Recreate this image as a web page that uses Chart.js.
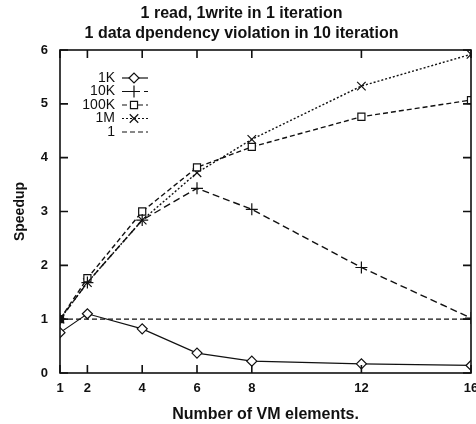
<!DOCTYPE html>
<html>
<head>
<meta charset="utf-8">
<script src="https://cdn.jsdelivr.net/npm/chart.js@4/dist/chart.umd.min.js"></script>
<style>
  body { margin: 0; background: #fff; }
  #wrap { width: 476px; height: 424px; }
</style>
</head>
<body>
<div id="wrap"><canvas id="chart" width="476" height="424"></canvas></div>
<script>
const vmElements = [1, 2, 4, 6, 8, 12, 16];
const xTicks = [1, 2, 4, 6, 8, 12, 16];

const speed1K   = [0.75, 1.10, 0.82, 0.37, 0.22, 0.17, 0.14];
const speed10K  = [1.0, 1.68, 2.84, 3.43, 3.04, 1.96, 1.02];
const speed100K = [1.0, 1.76, 3.0, 3.82, 4.2, 4.76, 5.07];
const speed1M   = [1.0, 1.68, 2.84, 3.72, 4.34, 5.33, 5.92];
const baseline  = [1, 1, 1, 1, 1, 1, 1];

const ink = '#111';
const font = 'Liberation Sans, Arial, Helvetica, sans-serif';

function pts(vals) {
    return vals.map((v, i) => ({ x: vmElements[i], y: v }));
}

// inward ticks, frame and the legend in the top-left corner
const framePlugin = {
    id: 'frame',
    afterDatasetsDraw(chart) {
        const ctx = chart.ctx;
        const a = chart.chartArea;
        const xs = chart.scales.x, ys = chart.scales.y;
        ctx.save();
        ctx.strokeStyle = ink;
        ctx.lineWidth = 1.6;
        ctx.setLineDash([]);
        ctx.strokeRect(a.left, a.top, a.right - a.left, a.bottom - a.top);
        const len = 8;
        xTicks.forEach(t => {
            const px = xs.getPixelForValue(t);
            ctx.beginPath();
            ctx.moveTo(px, a.bottom); ctx.lineTo(px, a.bottom - len);
            ctx.moveTo(px, a.top); ctx.lineTo(px, a.top + len);
            ctx.stroke();
        });
        for (let t = 0; t <= 6; t++) {
            const py = ys.getPixelForValue(t);
            ctx.beginPath();
            ctx.moveTo(a.left, py); ctx.lineTo(a.left + len, py);
            ctx.moveTo(a.right, py); ctx.lineTo(a.right - len, py);
            ctx.stroke();
        }

        // legend: label on the left, line sample on the right
        ctx.font = '14px ' + font;
        ctx.textAlign = 'right';
        ctx.textBaseline = 'middle';
        chart.data.datasets.forEach((ds, i) => {
            const y = 78 + i * 13.5;
            ctx.fillStyle = ink;
            ctx.fillText(ds.label, 115, y);
            ctx.beginPath();
            ctx.strokeStyle = ink;
            ctx.lineWidth = 1.2;
            ctx.setLineDash(ds.borderDash || []);
            ctx.moveTo(122, y); ctx.lineTo(148, y);
            ctx.stroke();
            ctx.setLineDash([]);
            if (ds.pointStyle && ds.pointRadius > 0) {
                ctx.fillStyle = '#fff';
                ctx.strokeStyle = ink;
                ctx.lineWidth = 1.2;
                Chart.helpers.drawPoint(ctx, {
                    pointStyle: ds.pointStyle,
                    radius: ds.pointRadius,
                    borderWidth: 1.2
                }, 134, y);
            }
        });
        ctx.restore();
    }
};

function series(label, vals, dash, style, radius, width) {
    return {
        label: label,
        data: pts(vals),
        borderColor: ink,
        borderWidth: width,
        borderDash: dash,
        pointStyle: style,
        pointRadius: radius,
        pointBorderWidth: 1.2,
        pointBorderColor: ink,
        pointBackgroundColor: '#fff',
        fill: false,
        tension: 0
    };
}

const ds100K = series('100K', speed100K, [5, 3], 'rect', 5, 1.4);
// the overlapping markers at x=1 read as one solid square
ds100K.pointBackgroundColor = vmElements.map((v, i) => i === 0 ? ink : '#fff');

new Chart(document.getElementById('chart').getContext('2d'), {
    type: 'line',
    data: {
        datasets: [
            series('1K', speed1K, [], 'rectRot', 5, 1.2),
            series('10K', speed10K, [7, 4], 'cross', 6, 1.4),
            ds100K,
            series('1M', speed1M, [2, 2], 'crossRot', 6, 1.4),
            series('1', baseline, [5, 3], false, 0, 1.3)
        ]
    },
    options: {
        responsive: false,
        animation: false,
        layout: { autoPadding: false, padding: { left: 12, right: 5, top: 0, bottom: 0 } },
        plugins: {
            legend: { display: false },
            tooltip: { enabled: false },
            title: {
                display: true,
                text: ['1 read, 1write in 1 iteration', '1 data dpendency violation in 10 iteration'],
                color: ink,
                font: { family: font, size: 16, weight: 'bold', lineHeight: 1.25 },
                padding: { top: 4, bottom: 6 }
            }
        },
        scales: {
            x: {
                type: 'linear',
                min: 1,
                max: 16,
                afterBuildTicks: s => { s.ticks = xTicks.map(v => ({ value: v })); },
                afterFit: s => { s.height = 51; s.paddingLeft = 0; s.paddingRight = 0; },
                grid: { display: false, drawTicks: false },
                border: { display: false },
                ticks: {
                    color: ink,
                    font: { family: font, size: 13, weight: 'bold' },
                    padding: 8,
                    maxRotation: 0,
                    autoSkip: false
                },
                title: {
                    display: true,
                    text: 'Number of VM elements.',
                    color: ink,
                    font: { family: font, size: 16, weight: 'bold' },
                    padding: { top: 11, bottom: 0 }
                }
            },
            y: {
                min: 0,
                max: 6,
                afterFit: s => { s.width = 48; },
                grid: { display: false, drawTicks: false },
                border: { display: false },
                ticks: {
                    stepSize: 1,
                    color: ink,
                    font: { family: font, size: 13, weight: 'bold' },
                    padding: 12
                },
                title: {
                    display: true,
                    text: 'Speedup',
                    color: ink,
                    font: { family: font, size: 14, weight: 'bold' },
                    padding: { top: 0, bottom: 0 }
                }
            }
        }
    },
    plugins: [framePlugin]
});
</script>
</body>
</html>
